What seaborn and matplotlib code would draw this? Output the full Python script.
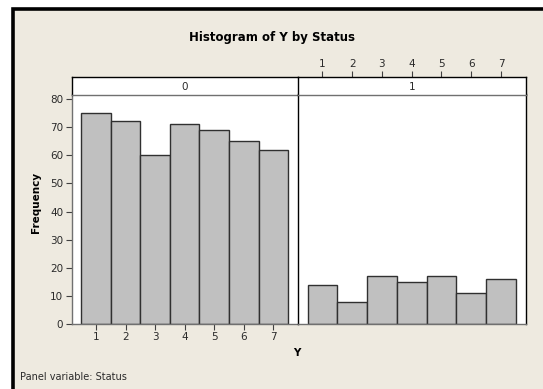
import numpy as np
import pandas as pd
import matplotlib
matplotlib.use("Agg")
import matplotlib.pyplot as plt
import seaborn as sns
from matplotlib.patches import Rectangle

sns.set_style("white")
plt.rcParams['font.family'] = ['DejaVu Sans']

# ---- data ----
y_values = [1, 2, 3, 4, 5, 6, 7]
counts_status0 = [75, 72, 60, 71, 69, 65, 62]
counts_status1 = [14, 8, 17, 15, 17, 11, 16]
status_levels = ["0", "1"]
y_ticks = [0, 10, 20, 30, 40, 50, 60, 70, 80]

df = pd.DataFrame({
    "Y": y_values * 2,
    "Count": counts_status0 + counts_status1,
    "Status": [status_levels[0]] * 7 + [status_levels[1]] * 7,
})

W, H = 543, 389
BG = "#EEEAE0"
TXT = "#2a2a2a"
fig = plt.figure(figsize=(W / 100, H / 100), dpi=100)
fig.patch.set_facecolor("white")

def fx(px):
    return px / W

def fy(py):
    return 1 - py / H

def axes_px(x0, y0, x1, y1):
    return fig.add_axes([fx(x0), fy(y1), fx(x1) - fx(x0), fy(y0) - fy(y1)])

# frame
fig.patches.append(Rectangle((fx(13), fy(H + 10)), fx(W + 20) - fx(13), fy(9) - fy(H + 10),
                             transform=fig.transFigure, facecolor=BG, edgecolor="black",
                             linewidth=2.6, zorder=-10))

xlim = (0.18, 7.83)
ylim = (0, 81.6)
px0, px_mid, px1 = 71.7, 298, 525.7
py_top, py_bot = 94.5, 324
strip_top = 77.3

panels = []
for i, lvl in enumerate(status_levels):
    x0 = px0 if i == 0 else px_mid
    x1 = px_mid if i == 0 else px1
    ax = axes_px(x0, py_top, x1, py_bot)
    ax.set_zorder(2)
    ax.set_facecolor("white")
    sub = df[df["Status"] == lvl]
    sns.histplot(data=sub, x="Y", weights="Count", discrete=True, ax=ax,
                 color="#C0C0C0", edgecolor="#303030", linewidth=1.0, alpha=1)
    ax.set_xlim(*xlim)
    ax.set_ylim(*ylim)
    ax.set_xlabel("")
    ax.set_ylabel("")
    for s in ax.spines.values():
        s.set_visible(True)
        s.set_color("black")
        s.set_linewidth(1.0)
    ax.spines["bottom"].set_color("#707070")
    ax.spines["top"].set_visible(False)
    if i == 0:
        ax.spines["left"].set_color("#707070")
        ax.set_yticks(y_ticks)
        ax.set_xticks(y_values)
        ax.tick_params(axis="both", direction="out", length=4, width=0.8,
                       color="#404040", labelsize=7.5, labelcolor=TXT, pad=2,
                       left=True, bottom=True)
        ax.spines["right"].set_visible(False)
    else:
        ax.set_yticks([])
        ax.set_xticks([])
    panels.append(ax)

    # strip
    st = axes_px(x0, strip_top, x1, py_top)
    st.set_zorder(2)
    st.set_facecolor("white")
    st.set_xlim(*xlim)
    st.set_ylim(0, 1)
    st.set_yticks([])
    for s in st.spines.values():
        s.set_color("black")
        s.set_linewidth(1.0)
    st.spines["bottom"].set_color("#707070")
    if i == 0:
        st.spines["right"].set_visible(False)
        st.set_xticks([])
    else:
        st.set_xticks(y_values)
        st.xaxis.tick_top()
        st.tick_params(axis="x", direction="out", length=4, width=0.8,
                       color="#404040", labelsize=7.5, labelcolor=TXT, pad=2, top=True)
    st.text(0.5, 0.45, lvl, transform=st.transAxes, ha="center", va="center",
            fontsize=7.5, color=TXT)

fig.text(fx(272), fy(37), "Histogram of Y by Status", ha="center", va="center",
         fontsize=8.5, fontweight="bold", color="black")
fig.text(fx(36), fy(202), "Frequency", ha="center", va="center", rotation=90,
         fontsize=7.5, fontweight="bold", color="black")
fig.text(fx(297), fy(353), "Y", ha="center", va="center",
         fontsize=7.5, fontweight="bold", color="black")
fig.text(fx(20), fy(377), "Panel variable: Status", ha="left", va="center",
         fontsize=7, color=TXT)

fig.savefig("out.png", dpi=100, facecolor=fig.get_facecolor())
